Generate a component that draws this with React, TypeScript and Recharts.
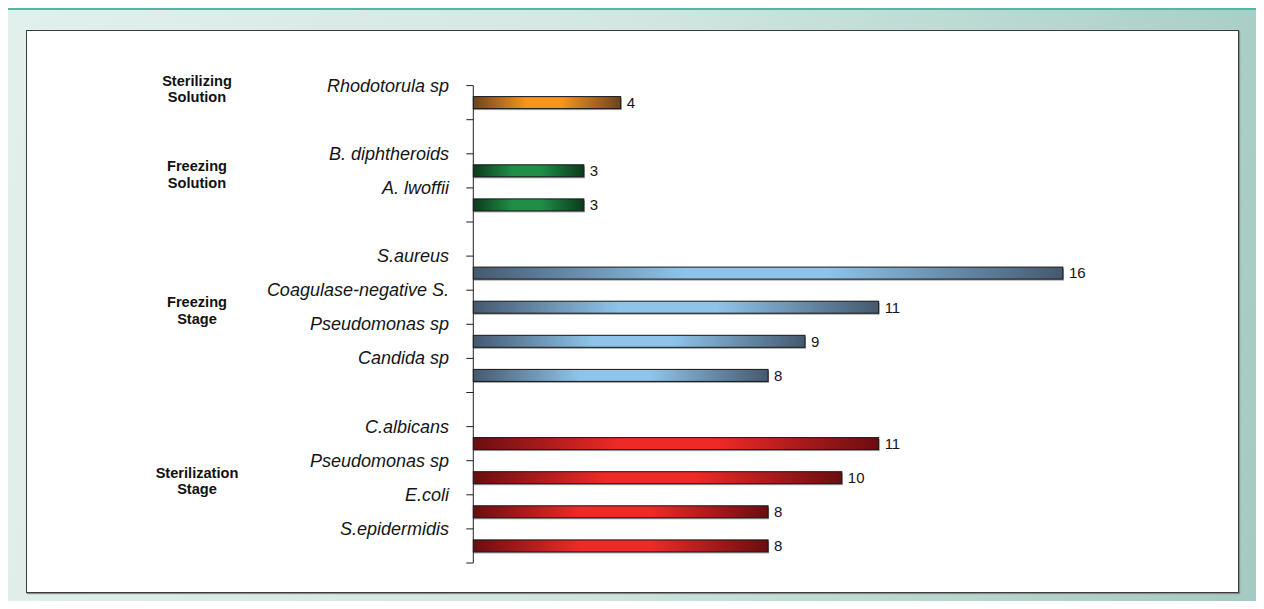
import React from "react";
import { BarChart, Bar, XAxis, YAxis, Cell, LabelList } from "recharts";

// rows from top to bottom; empty strings are the spacer rows between groups
const organisms = [
  "Rhodotorula sp",
  "",
  "B. diphtheroids",
  "A. lwoffii",
  "",
  "S.aureus",
  "Coagulase-negative S.",
  "Pseudomonas sp",
  "Candida sp",
  "",
  "C.albicans",
  "Pseudomonas sp",
  "E.coli",
  "S.epidermidis",
];
const counts = [4, null, 3, 3, null, 16, 11, 9, 8, null, 11, 10, 8, 8];
// group index of each row (-1 = spacer)
const rowGroup = [0, -1, 1, 1, -1, 2, 2, 2, 2, -1, 3, 3, 3, 3];
const groupNames = [
  ["Sterilizing", "Solution"],
  ["Freezing", "Solution"],
  ["Freezing", "Stage"],
  ["Sterilization", "Stage"],
];

const GROUP_COLORS = [
  { dark: "#6b4420", light: "#f7941d" },
  { dark: "#0b3b1c", light: "#1f8f48" },
  { dark: "#45596f", light: "#8ec4ea" },
  { dark: "#6a0d10", light: "#ee2a26" },
];

const W = 1264;
const H = 609;
const PLOT_TOP = 85.6;
const PLOT_BOTTOM = 563;
const AXIS_X = 473.3;
const BAND = (PLOT_BOTTOM - PLOT_TOP) / organisms.length;
const FONT = '"Liberation Sans", Arial, sans-serif';

const chartData = organisms.map((name, i) => ({
  id: String(i),
  name,
  value: counts[i],
}));

function RowTick(props: any) {
  const { y, payload } = props;
  const i = Number(payload.value);
  const top = y - BAND / 2;
  const g = rowGroup[i];
  const firstOfGroup = g >= 0 && rowGroup.indexOf(g) === i;
  const groupSize = rowGroup.filter((r) => r === g).length;
  const groupY = top + ((groupSize - 1) / 2) * BAND + 3;

  return (
    <g>
      <line x1={AXIS_X - 7} x2={AXIS_X} y1={top} y2={top} stroke="#222" />
      {i === organisms.length - 1 && (
        <line
          x1={AXIS_X - 7}
          x2={AXIS_X}
          y1={top + BAND}
          y2={top + BAND}
          stroke="#222"
        />
      )}
      {organisms[i] && (
        <text
          x={449}
          y={top}
          textAnchor="end"
          dominantBaseline="central"
          fontFamily={FONT}
          fontStyle="italic"
          fontSize={18}
          fill="#151515"
        >
          {organisms[i]}
        </text>
      )}
      {firstOfGroup && (
        <text
          x={197}
          y={groupY}
          textAnchor="middle"
          fontFamily={FONT}
          fontWeight="bold"
          fontSize={14.6}
          fill="#111"
        >
          <tspan x={197} dy={-3}>
            {groupNames[g][0]}
          </tspan>
          <tspan x={197} dy={16.7}>
            {groupNames[g][1]}
          </tspan>
        </text>
      )}
    </g>
  );
}

function ShadedBar(props: any) {
  const { x, y, width, height, fill } = props;
  if (!width || width <= 0) return null;
  return (
    <g>
      <rect x={x} y={y + 1.5} width={width + 1} height={height} fill="#a0a0a0" />
      <rect
        x={x}
        y={y}
        width={width}
        height={height}
        fill={fill}
        stroke="#161616"
        strokeWidth={1}
      />
    </g>
  );
}

export default function App() {
  return (
    <div
      style={{
        position: "relative",
        width: W,
        height: H,
        margin: -8,
        overflow: "hidden",
        background: "#fff",
      }}
    >
      <div
        style={{
          position: "absolute",
          left: 6,
          top: 8,
          width: 1255,
          height: 620,
          boxSizing: "border-box",
          borderLeft: "2px solid #4fb9a3",
          borderTop: "2px solid #4fb9a3",
          borderRight: "2px solid #4fb9a3",
          background:
            "linear-gradient(100deg, #e2f0ed 0%, #d3e7e2 45%, #a3cac2 100%)",
        }}
      />
      <div
        style={{
          position: "absolute",
          left: 26,
          top: 30,
          width: 1213,
          height: 563,
          boxSizing: "border-box",
          background: "#fff",
          border: "1.5px solid #3c3c3c",
          boxShadow: "1px 1px 1px #8a8a8a",
        }}
      />
      <div style={{ position: "absolute", left: 0, top: 0 }}>
        <BarChart
          width={W}
          height={H}
          data={chartData}
          layout="vertical"
          margin={{
            top: PLOT_TOP,
            bottom: H - PLOT_BOTTOM,
            left: 0,
            right: W - (AXIS_X + 20 * 36.85),
          }}
        >
          <defs>
            {GROUP_COLORS.map((c, gi) => (
              <linearGradient key={gi} id={`barGrad${gi}`} x1="0" y1="0" x2="1" y2="0">
                <stop offset="0%" stopColor={c.dark} />
                <stop offset="36%" stopColor={c.light} />
                <stop offset="60%" stopColor={c.light} />
                <stop offset="100%" stopColor={c.dark} />
              </linearGradient>
            ))}
          </defs>
          <XAxis type="number" domain={[0, 20]} hide />
          <YAxis
            type="category"
            dataKey="id"
            width={AXIS_X}
            tickLine={false}
            axisLine={{ stroke: "#222", strokeWidth: 1 }}
            tick={<RowTick />}
            interval={0}
          />
          <Bar
            dataKey="value"
            barSize={12}
            isAnimationActive={false}
            shape={<ShadedBar />}
          >
            {chartData.map((d, i) => (
              <Cell key={d.id} fill={`url(#barGrad${Math.max(rowGroup[i], 0)})`} />
            ))}
            <LabelList
              dataKey="value"
              position="right"
              offset={6}
              fontFamily={FONT}
              fontSize={15}
              fill="#151515"
              formatter={(v: any) => (v == null ? "" : v)}
            />
          </Bar>
        </BarChart>
      </div>
    </div>
  );
}
